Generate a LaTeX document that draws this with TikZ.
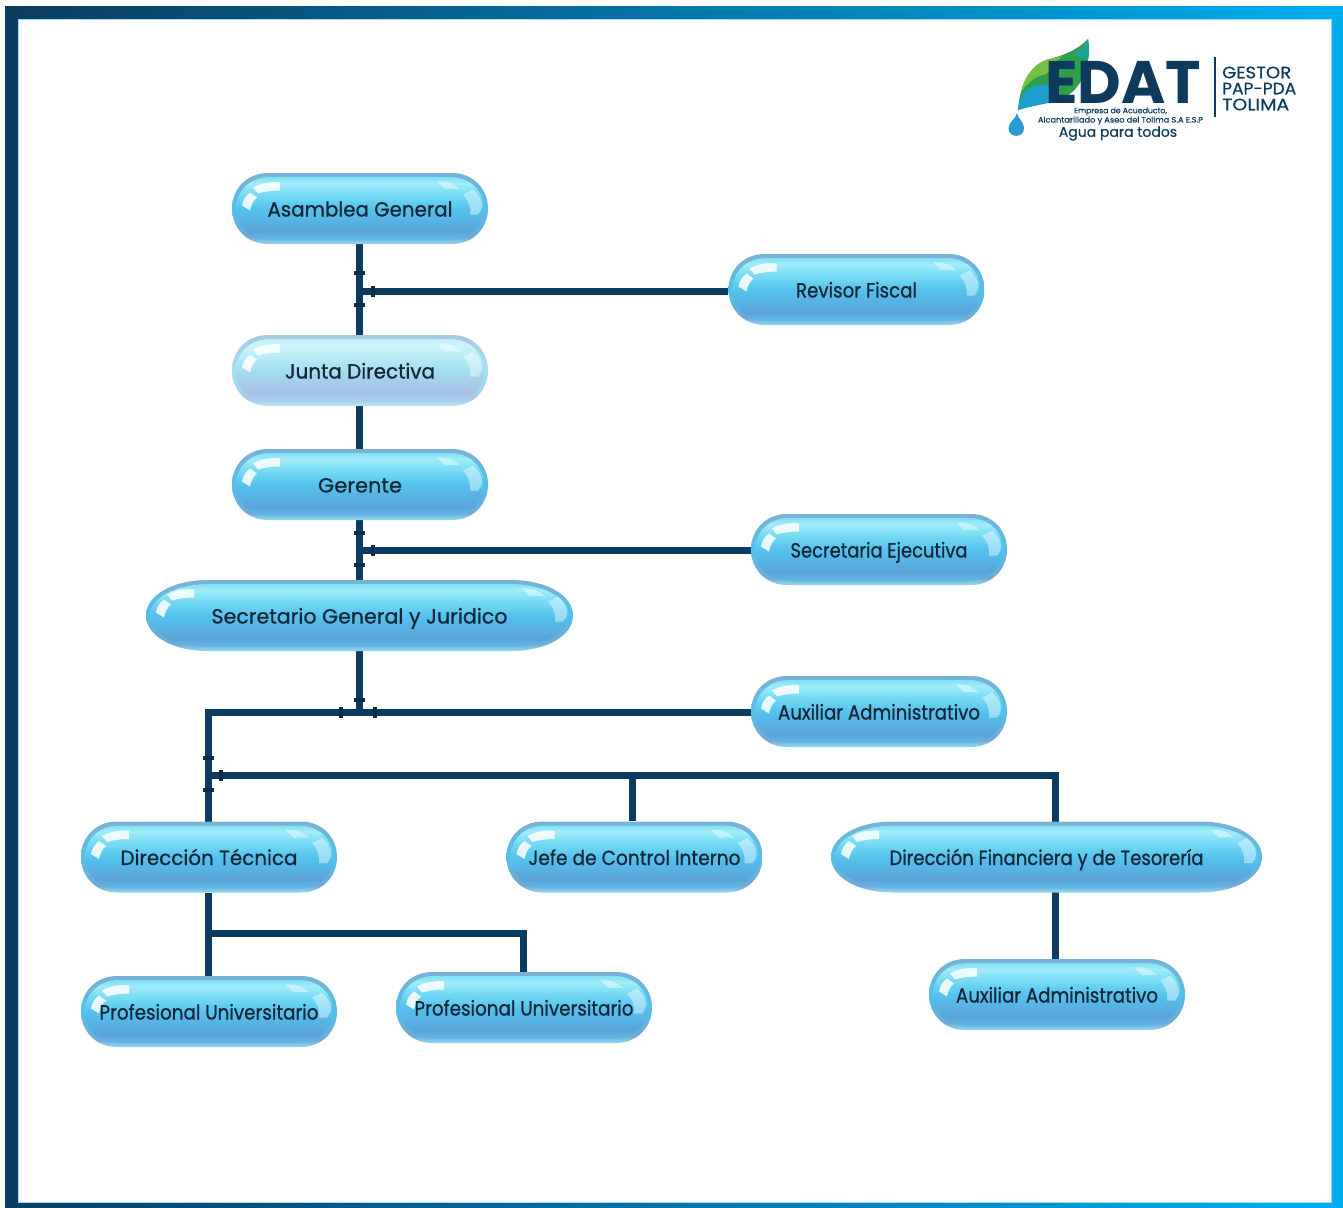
\documentclass[tikz,border=0pt]{standalone}
\usepackage{fontspec}
\usepackage{graphicx}
\usetikzlibrary{backgrounds}
\newfontfamily\pillfont{Poppins}[FakeBold=0.8]
\newfontfamily\logofont{Poppins}
\newfontfamily\logomed{Poppins}[FakeBold=0.45]
\definecolor{linecol}{HTML}{0B3C60}
\definecolor{frameend}{HTML}{00AEEF}
\definecolor{tickcol}{HTML}{0A2A48}
\definecolor{txtcol}{HTML}{142636}
\definecolor{logocol}{HTML}{0E3A5E}
\definecolor{ba}{HTML}{80E0F5}\definecolor{bb}{HTML}{A2ECFB}\definecolor{bc}{HTML}{54C3ED}\definecolor{bd}{HTML}{5AA2D8}\definecolor{be}{HTML}{60BCE8}
\definecolor{ja}{HTML}{BDEFF8}\definecolor{jb}{HTML}{CFF3FA}\definecolor{jc}{HTML}{A2DDF2}\definecolor{jd}{HTML}{A5BEE3}\definecolor{je}{HTML}{A9D4EE}
\definecolor{ra}{HTML}{78B2D6}\definecolor{rb}{HTML}{52C0E8}\definecolor{rc}{HTML}{72A8D4}\definecolor{rd}{HTML}{90DCF2}
\definecolor{qa}{HTML}{A8CBE2}\definecolor{qb}{HTML}{A5E0F2}\definecolor{qc}{HTML}{A9C8E4}\definecolor{qd}{HTML}{B8E8F5}
\definecolor{lfgreen}{HTML}{2E9E4B}\definecolor{lflime}{HTML}{79BF45}\definecolor{lfteal}{HTML}{1FA58F}\definecolor{lfblue}{HTML}{1C9FCE}\definecolor{dropblue}{HTML}{2A9BD6}
\pgfdeclareverticalshading{rimN}{100bp}{color(0bp)=(rd);color(25bp)=(rd);color(30bp)=(rc);color(50bp)=(rb);color(72bp)=(ra);color(75bp)=(ra);color(100bp)=(ra)}
\pgfdeclareverticalshading{bodyN}{100bp}{color(0bp)=(be);color(25bp)=(be);color(32bp)=(bd);color(50bp)=(bc);color(64bp)=(ba);color(70bp)=(bb);color(75bp)=(ba);color(100bp)=(ba)}
\pgfdeclareverticalshading{rimJ}{100bp}{color(0bp)=(qd);color(25bp)=(qd);color(30bp)=(qc);color(50bp)=(qb);color(72bp)=(qa);color(75bp)=(qa);color(100bp)=(qa)}
\pgfdeclareverticalshading{bodyJ}{100bp}{color(0bp)=(je);color(25bp)=(je);color(32bp)=(jd);color(50bp)=(jc);color(64bp)=(ja);color(70bp)=(jb);color(75bp)=(ja);color(100bp)=(ja)}
\tikzset{
  x=1pt,y=-1pt,
  conn/.style={draw=linecol,line width=7pt},
  pilltext/.style={inner sep=0pt,font=\pillfont\fontsize{20.5}{24}\selectfont,text=txtcol,text height=18pt,text depth=2pt},
  hlA/.style={fill=white,fill opacity=.85},
  hlB/.style={fill=white,fill opacity=.42},
  tickbar/.style={fill=tickcol},
  logotxt/.style={inner sep=0pt,text=logocol,font=\logofont},
}
\newcommand\pillpath[3]{(-#1,0) .. controls (-#1,-.56*#2) and (-#1+.42*#3,-#2) .. (-#1+#3,-#2) -- (#1-#3,-#2) .. controls (#1-.42*#3,-#2) and (#1,-.56*#2) .. (#1,0) .. controls (#1,.56*#2) and (#1-.42*#3,#2) .. (#1-#3,#2) -- (-#1+#3,#2) .. controls (-#1+.42*#3,#2) and (-#1,.56*#2) .. (-#1,0) -- cycle}
% name, cx, cy, half w, half h, corner run, variant, text width, text
\newcommand\pill[9]{%
  \begin{scope}[shift={(#2,#3)}]
    \pgfmathsetmacro\hw{#4}\pgfmathsetmacro\hh{#5}\pgfmathsetmacro\rr{#6}
    \pgfmathsetmacro\ihw{#4-4}\pgfmathsetmacro\ihh{#5-4}\pgfmathsetmacro\irr{#6-2}
    \shade[shading=rim#7] \pillpath{\hw}{\hh}{\rr};
    \shade[shading=body#7] \pillpath{\ihw}{\ihh}{\irr};
    \fill[hlA] (-\hw+21,-21) .. controls (-\hw+30,-26) and (-\hw+40,-27) .. (-\hw+48,-26) -- (-\hw+48,-18) .. controls (-\hw+40,-18) and (-\hw+32,-17) .. (-\hw+26,-15) -- cycle;
    \fill[hlA] (-\hw+10,-3) .. controls (-\hw+11,-9) and (-\hw+14,-13) .. (-\hw+18,-16) -- (-\hw+25,-11) .. controls (-\hw+21,-8) and (-\hw+19,-3) .. (-\hw+18,2) -- cycle;
    \fill[hlB] (\hw-51,-27) .. controls (\hw-42,-28) and (\hw-34,-25) .. (\hw-28,-19) .. controls (\hw-33,-20) and (\hw-38,-20) .. (\hw-43,-19) -- cycle;
    \fill[hlB] (\hw-25,-14) -- (\hw-15,-19) .. controls (\hw-9,-14) and (\hw-6,-8) .. (\hw-6,-3) .. controls (\hw-6,1) and (\hw-8,4) .. (\hw-10,6) -- (\hw-18,6) .. controls (\hw-17,0) and (\hw-19,-8) .. (\hw-25,-14) -- cycle;
  \end{scope}
  \node[pilltext,minimum width=2*#4,minimum height=2*#5] (#1) at (#2,#3) {\resizebox{#8pt}{\height}{#9}};
}
\newcommand\tickH[2]{\fill[tickbar] (#1-5.5,#2-1.7) rectangle (#1+5.5,#2+1.7);}
\newcommand\tickV[2]{\fill[tickbar] (#1-1.7,#2-5.5) rectangle (#1+1.7,#2+5.5);}
\begin{document}
\begin{tikzpicture}
\useasboundingbox (0,0) rectangle (1343,1207);
\pill{asamblea}{360}{208.5}{128}{35.5}{36}{N}{185}{Asamblea General}
\pill{revisor}{856.5}{289.5}{128}{35.5}{36}{N}{121}{Revisor Fiscal}
\pill{junta}{360}{370.5}{128}{35.5}{36}{J}{150}{Junta Directiva}
\pill{gerente}{360}{484.5}{128}{35.5}{36}{N}{84}{Gerente}
\pill{secej}{879}{549.5}{128}{35.5}{36}{N}{177}{Secretaria Ejecutiva}
\pill{secgen}{359.5}{615.5}{213.5}{35.5}{62}{N}{296}{Secretario General y Juridico}
\pill{auxa}{879}{711.5}{128}{35.5}{36}{N}{202}{Auxiliar Administrativo}
\pill{dirtec}{209}{857}{128}{35.5}{36}{N}{177}{Dirección Técnica}
\pill{jefe}{634.5}{857}{128}{35.5}{36}{N}{212}{Jefe de Control Interno}
\pill{dirfin}{1046.5}{857}{215.5}{35.5}{62}{N}{314}{Dirección Financiera y de Tesorería}
\pill{prof}{209}{1011.5}{128}{35.5}{36}{N}{219}{Profesional Universitario}
\pill{profb}{524}{1007.5}{128}{35.5}{36}{N}{219}{Profesional Universitario}
\pill{auxb}{1057}{994.5}{128}{35.5}{36}{N}{202}{Auxiliar Administrativo}
\coordinate (jrev) at (359.5,291);
\coordinate (jsec) at (359.5,550);
\coordinate (jaux) at (359.5,712);
\coordinate (jleft) at (208,712);
\coordinate (jbr) at (208,775);
\coordinate (jjefe) at (632,775);
\coordinate (jfin) at (1055,775);
\coordinate (jtec) at (208,933);
\coordinate (jpb) at (523,933);
\begin{scope}[on background layer]
  \shade[left color=linecol,right color=frameend] (5,7) rectangle (1343,1207);
  \fill[white] (18,19) rectangle (1331,1202);
  \draw[frameend!40!white,line width=.8pt] (18,19) rectangle (1331,1202);
  \draw[conn] (asamblea.south -| jrev) -- (junta.north -| jrev);
  \draw[conn] (revisor.west |- jrev) -- (jrev);
  \draw[conn] (junta.south -| jrev) -- (gerente.north -| jrev);
  \draw[conn] (gerente.south -| jsec) -- (secgen.north -| jsec);
  \draw[conn] (secej.west |- jsec) -- (jsec);
  \draw[conn] (secgen.south -| jaux) -- (jaux);
  \draw[conn,line cap=rect] (auxa.west |- jaux) -- (jleft) -- (dirtec.north -| jleft);
  \draw[conn] (jbr) -- (jfin) -- (auxb.north -| jfin);
  \draw[conn] (jjefe) -- (jefe.north -| jjefe);
  \draw[conn] (dirtec.south -| jtec) -- (prof.north -| jtec);
  \draw[conn] (jtec) -- (jpb) -- (profb.north -| jpb);
\end{scope}
\tickH{359.5}{273}\tickH{359.5}{305}\tickV{373}{291}
\tickH{359.5}{533}\tickH{359.5}{565}\tickV{373}{550}
\tickH{359.5}{700}\tickV{341}{712}\tickV{375}{712}
\tickH{208}{758}\tickH{208}{790}\tickV{221}{775}
% logo leaf
\fill[lfgreen] (1088,39) .. controls (1078,50) and (1062,56) .. (1046,60) .. controls (1030,66) and (1020,84) .. (1018,110) .. controls (1030,106) and (1045,104) .. (1060,100) .. controls (1078,92) and (1092,72) .. (1088,39) -- cycle;
\fill[lfteal] (1088,39) .. controls (1084,46) and (1078,52) .. (1072,55) -- (1088,60) .. controls (1090,52) and (1089,46) .. (1088,39) -- cycle;
\fill[lflime] (1062,56) .. controls (1056,58) and (1050,59) .. (1046,60) .. controls (1032,66) and (1024,78) .. (1021,92) .. controls (1028,82) and (1036,76) .. (1046,74) -- cycle;
\fill[lfblue] (1018,110) .. controls (1019,98) and (1024,90) .. (1034,86) .. controls (1040,84) and (1048,86) .. (1058,82) -- (1060,100) .. controls (1045,104) and (1030,106) .. (1018,110) -- cycle;
\fill[dropblue] (1017,113) .. controls (1016,119) and (1008.5,122) .. (1008.5,128) .. controls (1008.5,138.5) and (1024,138.5) .. (1024,128) .. controls (1024,122) and (1018,119) .. (1017,113) -- cycle;
\node[logotxt,font=\logofont\bfseries\fontsize{60}{60}\selectfont,text height=43pt,text depth=0pt] (edat) at (1123,81.5) {\resizebox{156pt}{\height}{EDAT}};
\node[logotxt,font=\logomed\fontsize{7.8}{9.3}\selectfont,align=center] (lg1) at (1120.5,116) {Empresa de Acueducto,\\\resizebox{165pt}{\height}{Alcantarillado y Aseo del Tolima S.A E.S.P}};
\node[logotxt,font=\logomed\fontsize{14}{16}\selectfont] (lg3) at (1118,133.5) {Agua para todos};
\fill[logocol] (1214,57) rectangle (1216,117);
\node[logotxt,anchor=west,font=\logomed\fontsize{16.5}{17}\selectfont] (g1) at (1222,72.5) {\resizebox{69pt}{\height}{GESTOR}};
\node[logotxt,anchor=west,font=\logomed\fontsize{16.5}{17}\selectfont] (g2) at (1222,88.5) {\resizebox{74pt}{\height}{PAP-PDA}};
\node[logotxt,anchor=west,font=\logomed\fontsize{16.5}{17}\selectfont] (g3) at (1222,104.5) {\resizebox{67pt}{\height}{TOLIMA}};
\end{tikzpicture}
\end{document}
